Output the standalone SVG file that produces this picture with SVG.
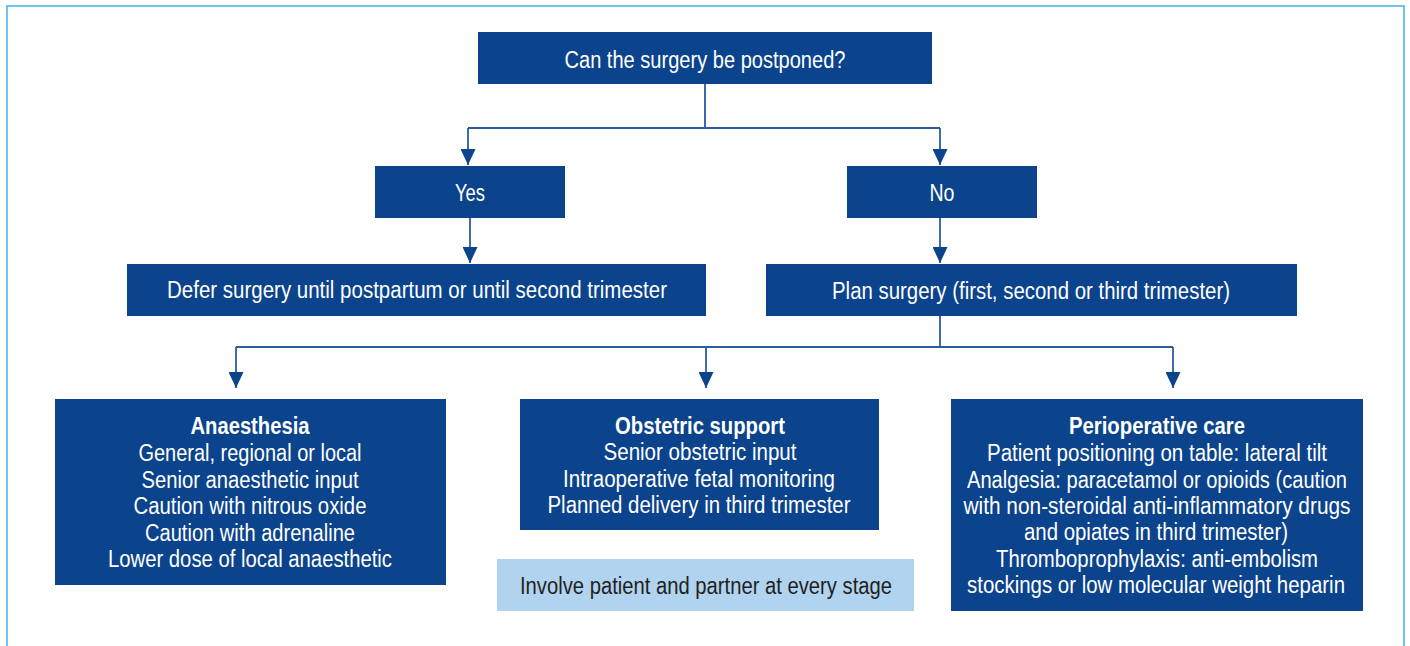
<svg xmlns="http://www.w3.org/2000/svg" width="1410" height="646" viewBox="0 0 1410 646">
<style>
.box{fill:#0b438c}
.lt{fill:#b0d3ef}
.t{font-family:"Liberation Sans",Arial,sans-serif;font-size:23px;fill:#ffffff;text-anchor:middle}
.b{font-weight:bold}
.d{fill:#231f20}
.c{fill:none;stroke:#2a5c9f;stroke-width:1.8}
</style>
<defs>
<marker id="ad" markerUnits="userSpaceOnUse" markerWidth="17" markerHeight="15" refX="16" refY="7.5" orient="auto" viewBox="0 0 17 15">
<path d="M0,0 L16,7.5 L0,15 Z" fill="#0b438c"/>
</marker>
</defs>
<rect width="1410" height="646" fill="#ffffff"/>
<rect x="7" y="6" width="1397" height="700" fill="none" stroke="#3eb1e6" stroke-width="1.5"/>
<g id="connectors">
<path class="c" d="M705,84 V128 M468,128 H940" />
<path class="c" d="M468,128 V165" marker-end="url(#ad)"/>
<path class="c" d="M940,128 V165" marker-end="url(#ad)"/>
<path class="c" d="M470,218 V263" marker-end="url(#ad)"/>
<path class="c" d="M940,218 V263" marker-end="url(#ad)"/>
<path class="c" d="M940,316 V347 M236,347 H1173"/>
<path class="c" d="M236,347 V388" marker-end="url(#ad)"/>
<path class="c" d="M706,347 V388" marker-end="url(#ad)"/>
<path class="c" d="M1173,347 V388" marker-end="url(#ad)"/>
</g>
<g id="q">
<rect class="box" x="478" y="32" width="454" height="52"/>
<text class="t" x="705" y="68" textLength="281" lengthAdjust="spacingAndGlyphs">Can the surgery be postponed?</text>
</g>
<g id="yes">
<rect class="box" x="375" y="166" width="190" height="52"/>
<text class="t" x="470" y="201" textLength="30" lengthAdjust="spacingAndGlyphs">Yes</text>
</g>
<g id="no">
<rect class="box" x="847" y="166" width="190" height="52"/>
<text class="t" x="942" y="201" textLength="25" lengthAdjust="spacingAndGlyphs">No</text>
</g>
<g id="defer">
<rect class="box" x="127" y="264" width="579" height="52"/>
<text class="t" x="417" y="298" textLength="500" lengthAdjust="spacingAndGlyphs">Defer surgery until postpartum or until second trimester</text>
</g>
<g id="plan">
<rect class="box" x="766" y="264" width="531" height="52"/>
<text class="t" x="1031" y="299" textLength="398" lengthAdjust="spacingAndGlyphs">Plan surgery (first, second or third trimester)</text>
</g>
<g id="anaesthesia">
<rect class="box" x="55" y="399" width="391" height="186"/>
<text class="t b" x="250" y="434" textLength="119" lengthAdjust="spacingAndGlyphs">Anaesthesia</text>
<text class="t" x="250" y="461" textLength="223" lengthAdjust="spacingAndGlyphs">General, regional or local</text>
<text class="t" x="250" y="488" textLength="217" lengthAdjust="spacingAndGlyphs">Senior anaesthetic input</text>
<text class="t" x="250" y="514" textLength="233" lengthAdjust="spacingAndGlyphs">Caution with nitrous oxide</text>
<text class="t" x="250" y="541" textLength="210" lengthAdjust="spacingAndGlyphs">Caution with adrenaline</text>
<text class="t" x="250" y="567" textLength="284" lengthAdjust="spacingAndGlyphs">Lower dose of local anaesthetic</text>
</g>
<g id="obstetric">
<rect class="box" x="520" y="399" width="359" height="131"/>
<text class="t b" x="700" y="434" textLength="170" lengthAdjust="spacingAndGlyphs">Obstetric support</text>
<text class="t" x="700" y="460" textLength="193" lengthAdjust="spacingAndGlyphs">Senior obstetric input</text>
<text class="t" x="699" y="487" textLength="272" lengthAdjust="spacingAndGlyphs">Intraoperative fetal monitoring</text>
<text class="t" x="699" y="513" textLength="303" lengthAdjust="spacingAndGlyphs">Planned delivery in third trimester</text>
</g>
<g id="perioperative">
<rect class="box" x="951" y="399" width="412" height="212"/>
<text class="t b" x="1157" y="434" textLength="176" lengthAdjust="spacingAndGlyphs">Perioperative care</text>
<text class="t" x="1157" y="461" textLength="340" lengthAdjust="spacingAndGlyphs">Patient positioning on table: lateral tilt</text>
<text class="t" x="1157" y="488" textLength="380" lengthAdjust="spacingAndGlyphs">Analgesia: paracetamol or opioids (caution</text>
<text class="t" x="1157" y="514" textLength="387" lengthAdjust="spacingAndGlyphs">with non-steroidal anti-inflammatory drugs</text>
<text class="t" x="1156" y="540" textLength="264" lengthAdjust="spacingAndGlyphs">and opiates in third trimester)</text>
<text class="t" x="1157" y="567" textLength="322" lengthAdjust="spacingAndGlyphs">Thromboprophylaxis: anti-embolism</text>
<text class="t" x="1156" y="593" textLength="378" lengthAdjust="spacingAndGlyphs">stockings or low molecular weight heparin</text>
</g>
<g id="involve">
<rect class="lt" x="497" y="559" width="417" height="52"/>
<text class="t d" x="706" y="594" textLength="372" lengthAdjust="spacingAndGlyphs">Involve patient and partner at every stage</text>
</g>
</svg>
